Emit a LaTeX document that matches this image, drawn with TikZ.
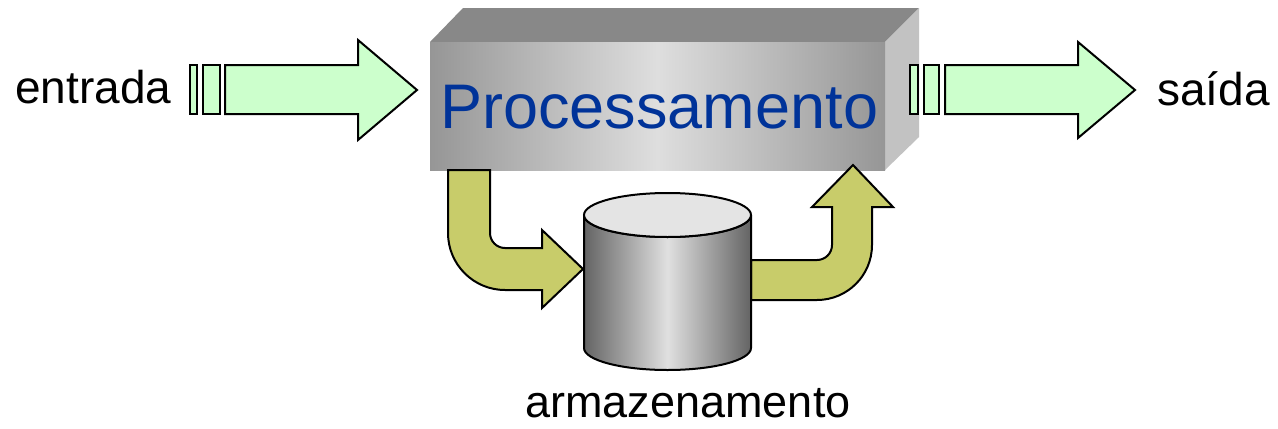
\documentclass[tikz,border=0pt]{standalone}
\usepackage{fontspec}
\setmainfont{Liberation Sans}
\usetikzlibrary{positioning}
\definecolor{flowgreen}{RGB}{204,255,204}
\definecolor{storeolive}{RGB}{200,204,106}
\definecolor{procblue}{RGB}{0,51,153}
\definecolor{boxtop}{RGB}{136,136,136}
\definecolor{boxside}{RGB}{194,194,194}
\definecolor{boxedge}{RGB}{150,150,150}
\definecolor{boxlight}{RGB}{222,222,222}
\definecolor{cyldark}{RGB}{100,100,100}
\definecolor{cyllight}{RGB}{224,224,224}
\definecolor{cyltop}{RGB}{228,228,228}

\begin{document}
\begin{tikzpicture}[x=0.5pt, y=-0.5pt, flow arrow/.style={fill=flowgreen, draw=black, line width=1pt}, store arrow/.style={fill=storeolive, draw=black, line width=1pt}, label node/.style={inner sep=0, anchor=base west, font=\fontsize{23}{23}\selectfont}, ]
		\useasboundingbox (0,0) rectangle (1278,428);
		
		%processing box
		\fill[boxtop] (430,42) -- (463,8) -- (919,8) -- (885,42) -- cycle;
		\fill[boxside] (885,42) -- (919,8) -- (919,137) -- (885,170) -- cycle;
		\shade[left color=boxedge, right color=boxedge, middle color=boxlight] (430,42) rectangle (885,170);
		\node[inner sep=0, anchor=base west, text=procblue, font=\fontsize{31.5}{31.5}\selectfont] (proc) at (440,128) {Processamento};
		
		%input and output
		\draw[flow arrow] (225,65) -- (358,65) -- (358,40) -- (417,90) -- (358,140) -- (358,114) -- (225,114) -- cycle;
		\foreach \a/\b in {190/197,203/220}
		{
			\draw[flow arrow] (\a,65) rectangle (\b,114);
		}
		\draw[flow arrow] (945,65) -- (1078,65) -- (1078,42) -- (1135,90) -- (1078,138) -- (1078,114) -- (945,114) -- cycle;
		\foreach \a/\b in {910/918,924/939}
		{
			\draw[flow arrow] (\a,65) rectangle (\b,114);
		}
		\node[label node] (entrada) at (15,103) {entrada};
		\node[label node] (saida) at (1157,105) {saída};
		
		%storage arrows
		\draw[store arrow] (448,170) -- (490,170) -- (490,233) arc[start angle=180, end angle=90, radius=15] -- (542,248) -- (542,230) -- (583,269) -- (542,308) -- (542,290) -- (505,290) arc[start angle=90, end angle=180, radius=57] -- cycle;
		\draw[store arrow] (751,260) -- (817,260) arc[start angle=90, end angle=0, radius=15] -- (832,207) -- (812,207) -- (853,165) -- (893,207) -- (872,207) -- (872,245) arc[start angle=0, end angle=90, radius=55] -- (751,300) -- cycle;
		
		%storage
		\shadedraw[left color=cyldark, right color=cyldark, middle color=cyllight, line width=1pt] (584,215) -- (584,348) arc[start angle=180, end angle=0, x radius=83.5, y radius=22] -- (751,215) arc[start angle=0, end angle=180, x radius=83.5, y radius=22] -- cycle;
		\draw[fill=cyltop, line width=1pt] (667.5,215) ellipse[x radius=83.5, y radius=22];
		\coordinate (store) at (667.5,348);
		\node[label node, font=\fontsize{22.5}{22.5}\selectfont] (armaz) at (525,417) {armazenamento};
		
\end{tikzpicture}
\end{document}
